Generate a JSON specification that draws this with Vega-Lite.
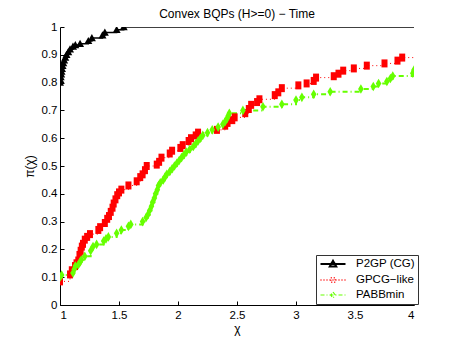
{
  "$schema": "https://vega.github.io/schema/vega-lite/v6.json",
  "autosize": "none",
  "width": 354,
  "height": 278,
  "padding": {"left": 60, "top": 27, "right": 43, "bottom": 39},
  "background": "white",
  "config": {
    "view": {"stroke": null},
    "font": "Liberation Sans",
    "axis": {
      "domainColor": "black", "tickColor": "black", "labelColor": "black", "titleColor": "black",
      "labelFont": "Liberation Sans", "titleFont": "Liberation Sans",
      "labelFontSize": 11.5, "titleFontSize": 12, "titleFontWeight": "normal",
      "grid": false, "tickSize": -4, "domainWidth": 1, "tickWidth": 1
    },
    "legend": {"labelFont": "Liberation Sans"}
  },
  "title": {"text": "Convex BQPs (H>=0) − Time", "fontSize": 12, "fontWeight": "normal", "font": "Liberation Sans", "color": "black", "offset": 0},
  "data": {"values": [
    {"s":"P2GP (CG)","x":1.0,"y":0.80},{"s":"P2GP (CG)","x":1.003,"y":0.81},{"s":"P2GP (CG)","x":1.006,"y":0.82},{"s":"P2GP (CG)","x":1.01,"y":0.83},{"s":"P2GP (CG)","x":1.013,"y":0.84},{"s":"P2GP (CG)","x":1.017,"y":0.85},{"s":"P2GP (CG)","x":1.022,"y":0.86},{"s":"P2GP (CG)","x":1.028,"y":0.87},{"s":"P2GP (CG)","x":1.035,"y":0.88},{"s":"P2GP (CG)","x":1.045,"y":0.89},{"s":"P2GP (CG)","x":1.055,"y":0.90},{"s":"P2GP (CG)","x":1.07,"y":0.91},{"s":"P2GP (CG)","x":1.085,"y":0.92},{"s":"P2GP (CG)","x":1.11,"y":0.93},{"s":"P2GP (CG)","x":1.13,"y":0.935},{"s":"P2GP (CG)","x":1.17,"y":0.94},{"s":"P2GP (CG)","x":1.24,"y":0.95},{"s":"P2GP (CG)","x":1.27,"y":0.96},{"s":"P2GP (CG)","x":1.36,"y":0.97},{"s":"P2GP (CG)","x":1.38,"y":0.98},{"s":"P2GP (CG)","x":1.48,"y":0.99},{"s":"P2GP (CG)","x":1.54,"y":1.0},{"s":"P2GP (CG)","x":4.5,"y":1.0},
    {"s":"GPCG−like","x":1.0,"y":0.085},{"s":"GPCG−like","x":1.085,"y":0.11},{"s":"GPCG−like","x":1.10,"y":0.125},{"s":"GPCG−like","x":1.127,"y":0.14},{"s":"GPCG−like","x":1.14,"y":0.15},{"s":"GPCG−like","x":1.155,"y":0.16},{"s":"GPCG−like","x":1.165,"y":0.18},{"s":"GPCG−like","x":1.175,"y":0.195},{"s":"GPCG−like","x":1.185,"y":0.21},{"s":"GPCG−like","x":1.195,"y":0.22},{"s":"GPCG−like","x":1.21,"y":0.235},{"s":"GPCG−like","x":1.23,"y":0.245},{"s":"GPCG−like","x":1.254,"y":0.255},{"s":"GPCG−like","x":1.325,"y":0.27},{"s":"GPCG−like","x":1.34,"y":0.28},{"s":"GPCG−like","x":1.38,"y":0.295},{"s":"GPCG−like","x":1.40,"y":0.31},{"s":"GPCG−like","x":1.415,"y":0.32},{"s":"GPCG−like","x":1.43,"y":0.335},{"s":"GPCG−like","x":1.445,"y":0.35},{"s":"GPCG−like","x":1.455,"y":0.365},{"s":"GPCG−like","x":1.47,"y":0.38},{"s":"GPCG−like","x":1.485,"y":0.395},{"s":"GPCG−like","x":1.50,"y":0.405},{"s":"GPCG−like","x":1.52,"y":0.415},{"s":"GPCG−like","x":1.58,"y":0.43},{"s":"GPCG−like","x":1.65,"y":0.445},{"s":"GPCG−like","x":1.68,"y":0.46},{"s":"GPCG−like","x":1.70,"y":0.47},{"s":"GPCG−like","x":1.72,"y":0.485},{"s":"GPCG−like","x":1.735,"y":0.50},{"s":"GPCG−like","x":1.82,"y":0.505},{"s":"GPCG−like","x":1.84,"y":0.515},{"s":"GPCG−like","x":1.86,"y":0.53},{"s":"GPCG−like","x":1.93,"y":0.545},{"s":"GPCG−like","x":1.95,"y":0.555},{"s":"GPCG−like","x":2.02,"y":0.565},{"s":"GPCG−like","x":2.04,"y":0.575},{"s":"GPCG−like","x":2.09,"y":0.59},{"s":"GPCG−like","x":2.11,"y":0.60},{"s":"GPCG−like","x":2.15,"y":0.61},{"s":"GPCG−like","x":2.17,"y":0.62},{"s":"GPCG−like","x":2.33,"y":0.63},{"s":"GPCG−like","x":2.40,"y":0.645},{"s":"GPCG−like","x":2.42,"y":0.655},{"s":"GPCG−like","x":2.46,"y":0.665},{"s":"GPCG−like","x":2.48,"y":0.675},{"s":"GPCG−like","x":2.57,"y":0.69},{"s":"GPCG−like","x":2.60,"y":0.705},{"s":"GPCG−like","x":2.62,"y":0.72},{"s":"GPCG−like","x":2.67,"y":0.73},{"s":"GPCG−like","x":2.69,"y":0.74},{"s":"GPCG−like","x":2.82,"y":0.755},{"s":"GPCG−like","x":2.85,"y":0.765},{"s":"GPCG−like","x":2.88,"y":0.78},{"s":"GPCG−like","x":3.02,"y":0.79},{"s":"GPCG−like","x":3.09,"y":0.797},{"s":"GPCG−like","x":3.15,"y":0.806},{"s":"GPCG−like","x":3.17,"y":0.818},{"s":"GPCG−like","x":3.32,"y":0.823},{"s":"GPCG−like","x":3.36,"y":0.832},{"s":"GPCG−like","x":3.40,"y":0.843},{"s":"GPCG−like","x":3.49,"y":0.851},{"s":"GPCG−like","x":3.60,"y":0.861},{"s":"GPCG−like","x":3.75,"y":0.869},{"s":"GPCG−like","x":3.86,"y":0.879},{"s":"GPCG−like","x":3.90,"y":0.89},{"s":"GPCG−like","x":4.4,"y":0.90},
    {"s":"PABBmin","x":1.0,"y":0.10},{"s":"PABBmin","x":1.014,"y":0.108},{"s":"PABBmin","x":1.11,"y":0.115},{"s":"PABBmin","x":1.12,"y":0.128},{"s":"PABBmin","x":1.13,"y":0.14},{"s":"PABBmin","x":1.155,"y":0.145},{"s":"PABBmin","x":1.17,"y":0.155},{"s":"PABBmin","x":1.18,"y":0.162},{"s":"PABBmin","x":1.21,"y":0.175},{"s":"PABBmin","x":1.26,"y":0.195},{"s":"PABBmin","x":1.28,"y":0.21},{"s":"PABBmin","x":1.31,"y":0.218},{"s":"PABBmin","x":1.37,"y":0.23},{"s":"PABBmin","x":1.39,"y":0.238},{"s":"PABBmin","x":1.41,"y":0.245},{"s":"PABBmin","x":1.48,"y":0.258},{"s":"PABBmin","x":1.52,"y":0.27},{"s":"PABBmin","x":1.58,"y":0.283},{"s":"PABBmin","x":1.60,"y":0.29},{"s":"PABBmin","x":1.70,"y":0.30},{"s":"PABBmin","x":1.73,"y":0.315},{"s":"PABBmin","x":1.745,"y":0.325},{"s":"PABBmin","x":1.76,"y":0.34},{"s":"PABBmin","x":1.775,"y":0.355},{"s":"PABBmin","x":1.785,"y":0.37},{"s":"PABBmin","x":1.80,"y":0.385},{"s":"PABBmin","x":1.81,"y":0.40},{"s":"PABBmin","x":1.825,"y":0.415},{"s":"PABBmin","x":1.835,"y":0.43},{"s":"PABBmin","x":1.85,"y":0.44},{"s":"PABBmin","x":1.875,"y":0.45},{"s":"PABBmin","x":1.89,"y":0.46},{"s":"PABBmin","x":1.905,"y":0.47},{"s":"PABBmin","x":1.93,"y":0.48},{"s":"PABBmin","x":1.95,"y":0.49},{"s":"PABBmin","x":1.97,"y":0.50},{"s":"PABBmin","x":1.99,"y":0.51},{"s":"PABBmin","x":2.01,"y":0.52},{"s":"PABBmin","x":2.03,"y":0.53},{"s":"PABBmin","x":2.05,"y":0.54},{"s":"PABBmin","x":2.07,"y":0.55},{"s":"PABBmin","x":2.10,"y":0.56},{"s":"PABBmin","x":2.13,"y":0.57},{"s":"PABBmin","x":2.15,"y":0.58},{"s":"PABBmin","x":2.17,"y":0.59},{"s":"PABBmin","x":2.19,"y":0.60},{"s":"PABBmin","x":2.21,"y":0.61},{"s":"PABBmin","x":2.25,"y":0.62},{"s":"PABBmin","x":2.29,"y":0.63},{"s":"PABBmin","x":2.34,"y":0.64},{"s":"PABBmin","x":2.38,"y":0.65},{"s":"PABBmin","x":2.40,"y":0.66},{"s":"PABBmin","x":2.415,"y":0.67},{"s":"PABBmin","x":2.425,"y":0.68},{"s":"PABBmin","x":2.435,"y":0.69},{"s":"PABBmin","x":2.55,"y":0.70},{"s":"PABBmin","x":2.72,"y":0.713},{"s":"PABBmin","x":2.88,"y":0.722},{"s":"PABBmin","x":3.0,"y":0.737},{"s":"PABBmin","x":3.05,"y":0.747},{"s":"PABBmin","x":3.15,"y":0.758},{"s":"PABBmin","x":3.29,"y":0.767},{"s":"PABBmin","x":3.55,"y":0.777},{"s":"PABBmin","x":3.655,"y":0.786},{"s":"PABBmin","x":3.70,"y":0.797},{"s":"PABBmin","x":3.77,"y":0.804},{"s":"PABBmin","x":3.80,"y":0.815},{"s":"PABBmin","x":3.82,"y":0.824},{"s":"PABBmin","x":3.99,"y":0.834},{"s":"PABBmin","x":4.0,"y":0.845},{"s":"PABBmin","x":4.5,"y":0.85}
  ]},
  "encoding": {
    "x": {"field": "x", "type": "quantitative", "scale": {"domain": [1, 4], "nice": false, "zero": false},
      "axis": {"values": [1, 1.5, 2, 2.5, 3, 3.5, 4], "format": ".1~f", "title": "χ", "titlePadding": 3, "labelPadding": 8}},
    "y": {"field": "y", "type": "quantitative", "scale": {"domain": [0, 1], "nice": false},
      "axis": {"values": [0, 0.1, 0.2, 0.3, 0.4, 0.5, 0.6, 0.7, 0.8, 0.9, 1], "format": ".1~f", "title": "π(χ)", "titlePadding": 5, "labelPadding": 7}}
  },
  "resolve": {"scale": {"color": "independent", "stroke": "independent", "strokeDash": "independent", "strokeWidth": "independent", "shape": "independent"}},
  "layer": [
    {
      "mark": {"type": "line", "interpolate": "step-after", "clip": true},
      "encoding": {
        "stroke": {"field": "s", "type": "nominal", "legend": null,
          "scale": {"domain": ["GPCG−like", "P2GP (CG)", "PABBmin"], "range": ["#ff0000", "#000000", "#66ff00"]}},
        "strokeDash": {"field": "s", "type": "nominal", "legend": null,
          "scale": {"domain": ["GPCG−like", "P2GP (CG)", "PABBmin"], "range": [[1, 3], [1, 0], [5, 3, 1, 3]]}},
        "strokeWidth": {"field": "s", "type": "nominal", "legend": null,
          "scale": {"domain": ["GPCG−like", "P2GP (CG)", "PABBmin"], "range": [1, 2, 1.5]}}
      }
    },
    {
      "mark": {"type": "point", "filled": true, "opacity": 1, "clip": true, "size": 64},
      "encoding": {
        "color": {"field": "s", "type": "nominal", "legend": null,
          "scale": {"domain": ["GPCG−like", "P2GP (CG)", "PABBmin"], "range": ["#ff0000", "#000000", "#66ff00"]}},
        "shape": {"field": "s", "type": "nominal", "legend": null,
          "scale": {"domain": ["GPCG−like", "P2GP (CG)", "PABBmin"],
            "range": ["M-0.75,-1H0.75V1H-0.75Z", "M0,-1L1,0.8L-1,0.8Z", "M0,-1.2L0.7,0L0,1.2L-0.7,0Z"]}}
      }
    },
    {
      "mark": {"type": "point", "filled": true, "opacity": 0, "size": 100},
      "encoding": {
        "color": {"field": "s", "type": "nominal",
          "scale": {"domain": ["P2GP (CG)", "GPCG−like", "PABBmin"], "range": ["#000000", "#ff0000", "#66ff00"]},
          "legend": {
            "orient": "none", "legendX": 256, "legendY": 228, "direction": "vertical", "title": null,
            "strokeColor": "#333333", "fillColor": "white", "padding": 3, "cornerRadius": 0,
            "labelFont": "Liberation Sans", "labelFontSize": 11.5, "labelColor": "black",
            "symbolSize": 100, "symbolOffset": 8, "labelOffset": 17, "rowPadding": 3, "symbolOpacity": 1
          }},
        "stroke": {"field": "s", "type": "nominal",
          "scale": {"domain": ["P2GP (CG)", "GPCG−like", "PABBmin"], "range": ["#000000", "#ff0000", "#66ff00"]}},
        "strokeDash": {"field": "s", "type": "nominal",
          "scale": {"domain": ["P2GP (CG)", "GPCG−like", "PABBmin"], "range": [[1, 0], [1, 2], [4, 2, 1, 2]]}},
        "strokeWidth": {"field": "s", "type": "nominal",
          "scale": {"domain": ["P2GP (CG)", "GPCG−like", "PABBmin"], "range": [2, 1.2, 1.4]}},
        "shape": {"field": "s", "type": "nominal",
          "scale": {"domain": ["P2GP (CG)", "GPCG−like", "PABBmin"],
            "range": ["M-2.5,0H2.5M0,-0.65L0.65,0.5L-0.65,0.5Z", "M-2.5,0H2.5M-0.45,-0.45H0.45V0.45H-0.45Z", "M-2.5,0H2.5M0,-0.6L0.45,0L0,0.6L-0.45,0Z"]}}
      }
    }
  ]
}
